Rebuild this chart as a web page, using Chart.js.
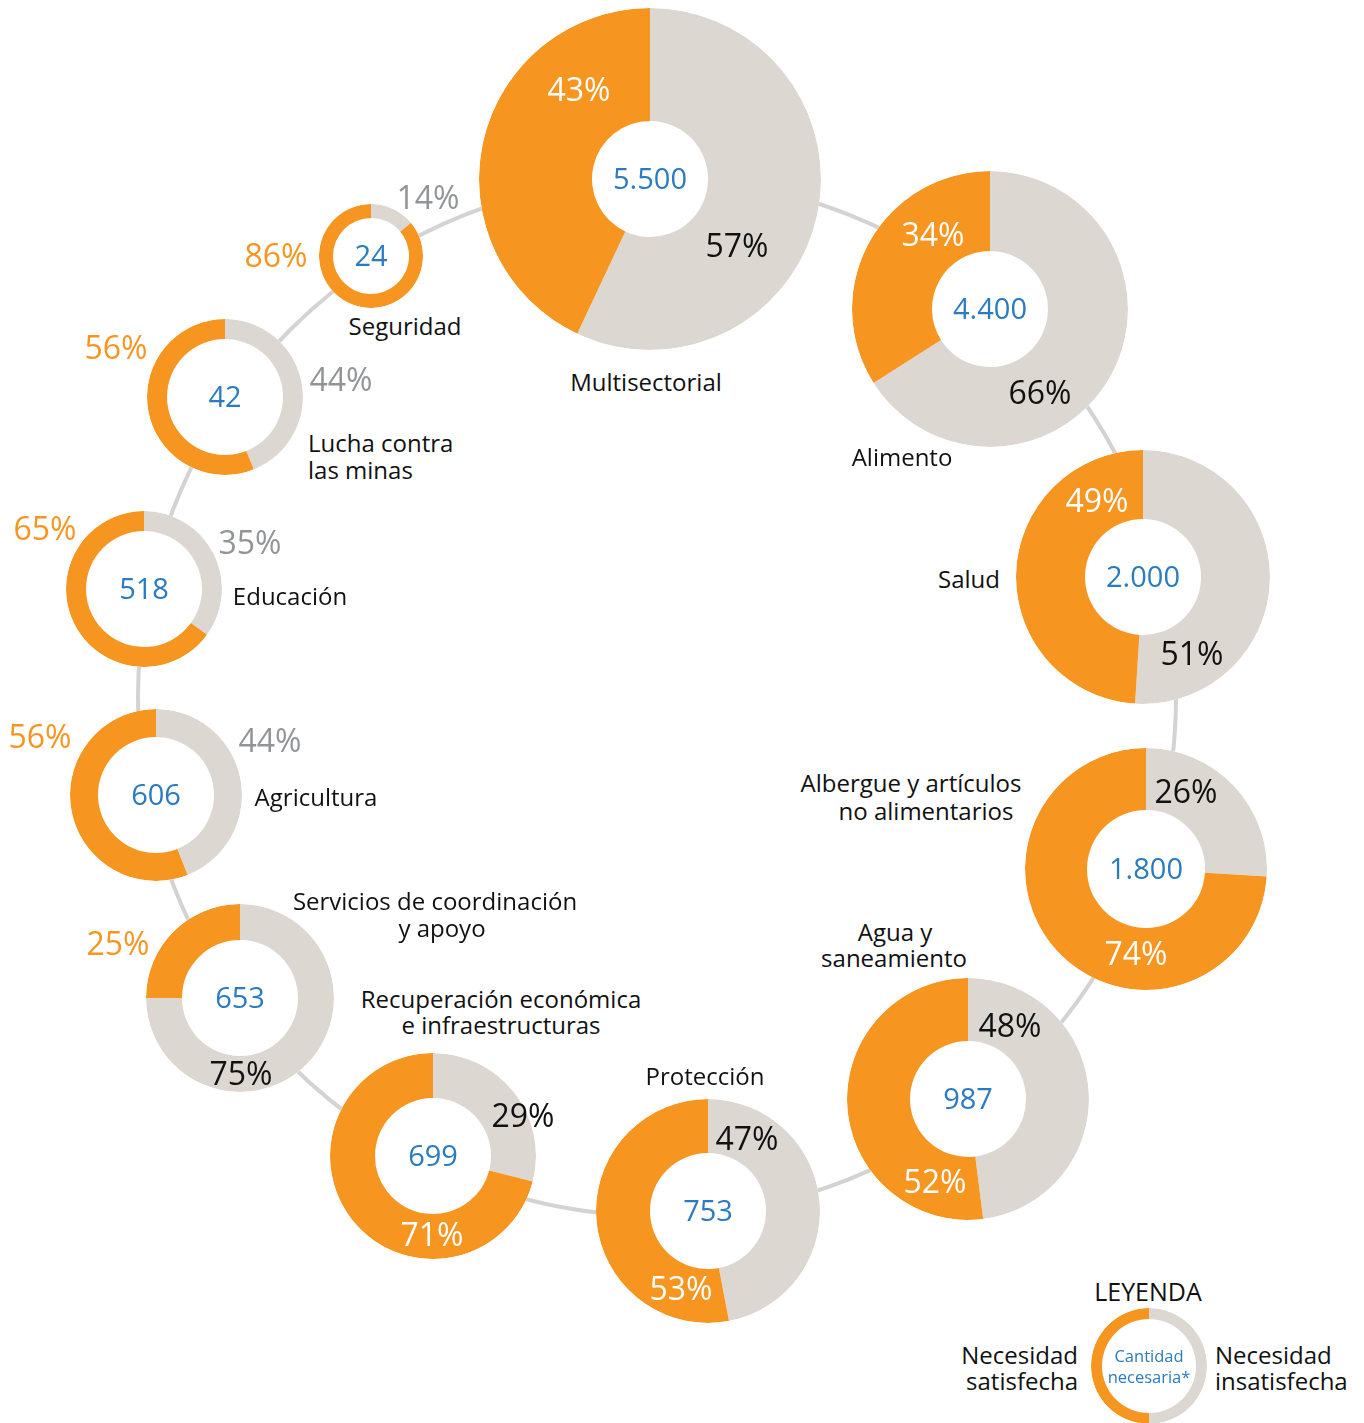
<!DOCTYPE html>
<html>
<head>
<meta charset="utf-8">
<script src="https://cdn.jsdelivr.net/npm/chart.js@4/dist/chart.umd.min.js"></script>
<style>
  html, body { margin: 0; padding: 0; background: #ffffff; }
  #stage { position: relative; width: 1364px; height: 1423px; overflow: hidden; font-family: "Open Sans", "Noto Sans", sans-serif; }
  .ring { position: absolute; border: 4px solid #d3d3d3; border-radius: 50%; box-sizing: border-box; z-index: 0; }
  canvas.donut { position: absolute; z-index: 1; border-radius: 50%; background: #ffffff; }
  .t { position: absolute; z-index: 2; white-space: nowrap; line-height: 1; }
  .c { transform: translate(-50%, -50%); }
  .l { transform: translate(0, -50%); }
  .r { transform: translate(-100%, -50%); }
</style>
</head>
<body>
<div id="stage"></div>
<script>
// ---------- DATA ----------
const categories = [
  "Multisectorial", "Alimento", "Salud", "Albergue y artículos\nno alimentarios",
  "Agua y\nsaneamiento", "Protección", "Recuperación económica\ne infraestructuras",
  "Servicios de coordinación\ny apoyo", "Agricultura", "Educación",
  "Lucha contra\nlas minas", "Seguridad"
];
const requiredAmount = ["5.500", "4.400", "2.000", "1.800", "987", "753", "699", "653", "606", "518", "42", "24"];
const metPct   = [43, 34, 49, 74, 52, 53, 71, 25, 56, 65, 56, 86];
const unmetPct = [57, 66, 51, 26, 48, 47, 29, 75, 44, 35, 44, 14];

const legendTitle = "LEYENDA";
const legendMet = "Necesidad\nsatisfecha";
const legendUnmet = "Necesidad\ninsatisfecha";
const legendCenter = "Cantidad\nnecesaria*";
const legendValues = [50, 50];

// ---------- STYLE / LAYOUT ----------
const ORANGE = "#f6951f", GREY = "#ddd7d2", BLUE = "#2a7bc0", GREYTXT = "#929497";
const NAME_SIZE = 24, PCT_SIZE = 32, NUM_SIZE = 29;
// donut centre, outer radius, inner radius
const donutLayout = [
  {x: 650, y: 179, R: 171, r: 58},
  {x: 990, y: 309, R: 138, r: 58},
  {x: 1143, y: 577, R: 127, r: 58},
  {x: 1146, y: 869, R: 121, r: 59},
  {x: 968, y: 1099, R: 121, r: 58},
  {x: 708, y: 1211, R: 112, r: 58},
  {x: 433, y: 1156, R: 103, r: 58},
  {x: 240, y: 998, R: 94, r: 58},
  {x: 156, y: 795, R: 86, r: 58},
  {x: 144, y: 589, R: 78, r: 58},
  {x: 225, y: 397, R: 78, r: 58},
  {x: 371, y: 256, R: 52, r: 38}
];
// percent label positions: met (orange part) and unmet (grey part)
const pctLayout = [
  {m: [579, 89], u: [737, 245], inside: true},
  {m: [933, 234], u: [1040, 392], inside: true},
  {m: [1097, 500], u: [1192, 653], inside: true},
  {m: [1136, 953], u: [1186, 791], inside: true},
  {m: [935, 1181], u: [1010, 1025], inside: true},
  {m: [681, 1288], u: [747, 1138], inside: true},
  {m: [432, 1234], u: [523, 1115], inside: true},
  {m: [118, 943], u: [241, 1073], inside: false, uInside: true},
  {m: [40, 736], u: [270, 740], inside: false},
  {m: [45, 528], u: [250, 542], inside: false},
  {m: [116, 347], u: [341, 379], inside: false},
  {m: [276, 255], u: [428, 197], inside: false}
];
// category label lines: [x, y, align]
const nameLayout = [
  [[646, 382, "c"]],
  [[902, 457, "c"]],
  [[969, 579, "c"]],
  [[911, 783, "c"], [926, 811, "c"]],
  [[895, 932, "c"], [894, 958, "c"]],
  [[705, 1076, "c"]],
  [[501, 999, "c"], [501, 1025, "c"]],
  [[435, 901, "c"], [442, 928, "c"]],
  [[316, 797, "c"]],
  [[290, 596, "c"]],
  [[308, 443, "l"], [308, 470, "l"]],
  [[405, 326, "c"]]
];
const legendLayout = {x: 1149, y: 1366, R: 58, r: 47};

const stage = document.getElementById("stage");

// connecting ring
const ringC = {x: 657, y: 697, r: 519};
const ring = document.createElement("div");
ring.className = "ring";
ring.style.left = (ringC.x - ringC.r - 2) + "px";
ring.style.top = (ringC.y - ringC.r - 2) + "px";
ring.style.width = (2 * ringC.r + 4) + "px";
ring.style.height = (2 * ringC.r + 4) + "px";
stage.appendChild(ring);

function addText(txt, x, y, align, size, color, weight) {
  const d = document.createElement("div");
  d.className = "t " + align;
  d.textContent = txt;
  d.style.left = x + "px";
  d.style.top = y + "px";
  d.style.fontSize = size + "px";
  d.style.color = color;
  if (weight) d.style.fontWeight = weight;
  stage.appendChild(d);
}

function makeDonut(lay, values) {
  const cv = document.createElement("canvas");
  cv.className = "donut";
  cv.width = 2 * lay.R;
  cv.height = 2 * lay.R;
  cv.style.left = (lay.x - lay.R) + "px";
  cv.style.top = (lay.y - lay.R) + "px";
  cv.style.width = (2 * lay.R) + "px";
  cv.style.height = (2 * lay.R) + "px";
  stage.appendChild(cv);
  new Chart(cv.getContext("2d"), {
    type: "doughnut",
    data: {
      labels: ["Necesidad insatisfecha", "Necesidad satisfecha"],
      datasets: [{
        data: values,
        backgroundColor: [GREY, ORANGE],
        borderWidth: 0,
        hoverBorderWidth: 0,
        hoverOffset: 0,
        offset: 0,
        spacing: 0
      }]
    },
    options: {
      responsive: false,
      maintainAspectRatio: false,
      animation: false,
      cutout: lay.r,
      rotation: 0,
      circumference: 360,
      layout: {padding: 0},
      events: [],
      plugins: {legend: {display: false}, tooltip: {enabled: false}}
    }
  });
}

categories.forEach((cat, i) => {
  makeDonut(donutLayout[i], [unmetPct[i], metPct[i]]);
  const L = donutLayout[i];
  addText(requiredAmount[i], L.x, L.y - 2, "c", NUM_SIZE, BLUE);
  const P = pctLayout[i];
  addText(metPct[i] + "%", P.m[0], P.m[1], "c", PCT_SIZE, P.inside ? "#ffffff" : ORANGE);
  const uIn = P.inside || P.uInside;
  addText(unmetPct[i] + "%", P.u[0], P.u[1], "c", PCT_SIZE, uIn ? "#111111" : GREYTXT);
  const lines = cat.split("\n");
  lines.forEach((ln, k) => {
    const N = nameLayout[i][k];
    addText(ln, N[0], N[1], N[2], NAME_SIZE, "#111111");
  });
});

// legend
makeDonut(legendLayout, legendValues);
addText(legendTitle, 1148, 1291, "c", 25, "#111111");
const lm = legendMet.split("\n");
addText(lm[0], 1078, 1355, "r", NAME_SIZE, "#111111");
addText(lm[1], 1078, 1381, "r", NAME_SIZE, "#111111");
const lu = legendUnmet.split("\n");
addText(lu[0], 1215, 1355, "l", NAME_SIZE, "#111111");
addText(lu[1], 1215, 1381, "l", NAME_SIZE, "#111111");
const lc = legendCenter.split("\n");
addText(lc[0], 1149, 1356, "c", 16.5, BLUE);
addText(lc[1], 1149, 1377, "c", 16.5, BLUE);
</script>
</body>
</html>
